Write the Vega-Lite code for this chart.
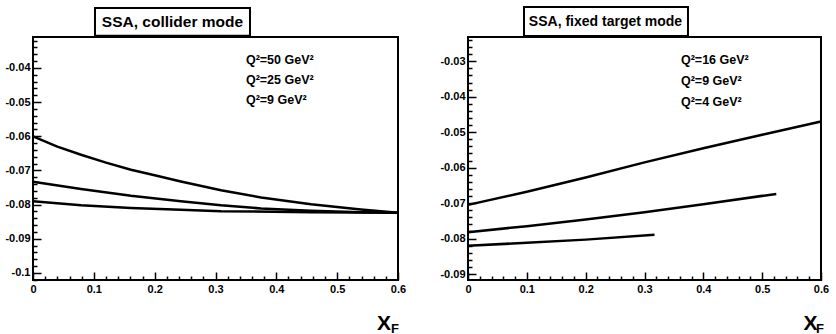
{
  "$schema": "https://vega.github.io/schema/vega-lite/v6.json",
  "padding": {"left": 3, "top": 5, "right": 0, "bottom": 0},
  "background": "white",
  "spacing": 31,
  "datasets": {
    "collider": [
      {"xf": 0.0, "asym": -0.0600, "series": "Q2=50"},
      {"xf": 0.04, "asym": -0.0630, "series": "Q2=50"},
      {"xf": 0.079, "asym": -0.0654, "series": "Q2=50"},
      {"xf": 0.12, "asym": -0.0677, "series": "Q2=50"},
      {"xf": 0.161, "asym": -0.0698, "series": "Q2=50"},
      {"xf": 0.2, "asym": -0.0714, "series": "Q2=50"},
      {"xf": 0.243, "asym": -0.0732, "series": "Q2=50"},
      {"xf": 0.309, "asym": -0.0758, "series": "Q2=50"},
      {"xf": 0.375, "asym": -0.0779, "series": "Q2=50"},
      {"xf": 0.457, "asym": -0.0799, "series": "Q2=50"},
      {"xf": 0.539, "asym": -0.0814, "series": "Q2=50"},
      {"xf": 0.6, "asym": -0.0824, "series": "Q2=50"},
      {"xf": 0.0, "asym": -0.0733, "series": "Q2=25"},
      {"xf": 0.079, "asym": -0.0754, "series": "Q2=25"},
      {"xf": 0.161, "asym": -0.0774, "series": "Q2=25"},
      {"xf": 0.243, "asym": -0.0790, "series": "Q2=25"},
      {"xf": 0.309, "asym": -0.0802, "series": "Q2=25"},
      {"xf": 0.375, "asym": -0.0811, "series": "Q2=25"},
      {"xf": 0.457, "asym": -0.0818, "series": "Q2=25"},
      {"xf": 0.539, "asym": -0.0822, "series": "Q2=25"},
      {"xf": 0.6, "asym": -0.0824, "series": "Q2=25"},
      {"xf": 0.0, "asym": -0.0790, "series": "Q2=9"},
      {"xf": 0.079, "asym": -0.0802, "series": "Q2=9"},
      {"xf": 0.161, "asym": -0.0810, "series": "Q2=9"},
      {"xf": 0.243, "asym": -0.0815, "series": "Q2=9"},
      {"xf": 0.309, "asym": -0.0819, "series": "Q2=9"},
      {"xf": 0.457, "asym": -0.0822, "series": "Q2=9"},
      {"xf": 0.6, "asym": -0.0824, "series": "Q2=9"}
    ],
    "fixed": [
      {"xf": 0.0, "asym": -0.0705, "series": "Q2=16"},
      {"xf": 0.1, "asym": -0.0668, "series": "Q2=16"},
      {"xf": 0.2, "asym": -0.0628, "series": "Q2=16"},
      {"xf": 0.3, "asym": -0.0585, "series": "Q2=16"},
      {"xf": 0.4, "asym": -0.0545, "series": "Q2=16"},
      {"xf": 0.5, "asym": -0.0507, "series": "Q2=16"},
      {"xf": 0.6, "asym": -0.0470, "series": "Q2=16"},
      {"xf": 0.0, "asym": -0.0782, "series": "Q2=9"},
      {"xf": 0.1, "asym": -0.0765, "series": "Q2=9"},
      {"xf": 0.2, "asym": -0.0746, "series": "Q2=9"},
      {"xf": 0.3, "asym": -0.0726, "series": "Q2=9"},
      {"xf": 0.4, "asym": -0.0703, "series": "Q2=9"},
      {"xf": 0.524, "asym": -0.0674, "series": "Q2=9"},
      {"xf": 0.0, "asym": -0.0820, "series": "Q2=4"},
      {"xf": 0.1, "asym": -0.0812, "series": "Q2=4"},
      {"xf": 0.2, "asym": -0.0803, "series": "Q2=4"},
      {"xf": 0.317, "asym": -0.0789, "series": "Q2=4"}
    ],
    "one": [{}]
  },
  "hconcat": [
    {
      "width": 365,
      "height": 243,
      "layer": [
        {
          "data": {"name": "collider"},
          "mark": {"type": "line", "color": "black", "strokeWidth": 2.5},
          "encoding": {
            "x": {
              "field": "xf", "type": "quantitative",
              "scale": {"domain": [0, 0.6], "nice": false, "zero": false},
              "axis": {
                "values": [0,0.02,0.04,0.06,0.08,0.1,0.12,0.14,0.16,0.18,0.2,0.22,0.24,0.26,0.28,0.3,0.32,0.34,0.36,0.38,0.4,0.42,0.44,0.46,0.48,0.5,0.52,0.54,0.56,0.58,0.6],
                "tickCount": 100,
                "labelOverlap": false,
                "labelExpr": "abs(datum.value*10 - round(datum.value*10)) < 0.01 ? format(datum.value, '~g') : ''",
                "tickSize": {"condition": {"test": "abs(datum.value*10 - round(datum.value*10)) < 0.01", "value": -8}, "value": -4}
              }
            },
            "y": {
              "field": "asym", "type": "quantitative",
              "scale": {"domain": [-0.10205, -0.03093], "nice": false, "zero": false},
              "axis": {
                "values": [-0.102,-0.1,-0.098,-0.096,-0.094,-0.092,-0.09,-0.088,-0.086,-0.084,-0.082,-0.08,-0.078,-0.076,-0.074,-0.072,-0.07,-0.068,-0.066,-0.064,-0.062,-0.06,-0.058,-0.056,-0.054,-0.052,-0.05,-0.048,-0.046,-0.044,-0.042,-0.04,-0.038,-0.036,-0.034,-0.032],
                "tickCount": 100,
                "labelOverlap": false,
                "labelExpr": "abs(datum.value*100 - round(datum.value*100)) < 0.01 ? '-' + format(abs(datum.value), '~g') : ''",
                "tickSize": {"condition": {"test": "abs(datum.value*100 - round(datum.value*100)) < 0.01", "value": -8}, "value": -4}
              }
            },
            "detail": {"field": "series"}
          }
        },
        {
          "data": {"name": "one"},
          "mark": {"type": "rect", "fill": "white", "stroke": "black", "strokeWidth": 2},
          "encoding": {
            "x": {"datum": 0.1019}, "x2": {"datum": 0.3567},
            "y": {"datum": -0.02245}, "y2": {"datum": -0.0306}
          }
        },
        {
          "data": {"name": "one"},
          "mark": {"type": "text", "font": "Liberation Sans", "fontWeight": "bold", "fontSize": 15.5, "align": "center", "baseline": "middle", "color": "black"},
          "encoding": {
            "x": {"datum": 0.2293}, "y": {"datum": -0.02655},
            "text": {"value": "SSA, collider mode"}
          }
        },
        {
          "data": {"name": "one"},
          "mark": {"type": "text", "font": "Liberation Sans", "fontWeight": "bold", "fontSize": 12.5, "align": "left", "baseline": "middle", "lineHeight": 20, "color": "black"},
          "encoding": {
            "x": {"datum": 0.350}, "y": {"datum": -0.03766},
            "text": {"value": ["Q²=50 GeV²", "Q²=25 GeV²", "Q²=9 GeV²"]}
          }
        },
        {
          "data": {"name": "one"},
          "mark": {"type": "text", "font": "Liberation Sans", "fontWeight": "bold", "fontSize": 21, "align": "center", "baseline": "alphabetic", "color": "black"},
          "encoding": {
            "x": {"datum": 0.577}, "y": {"datum": -0.1166},
            "text": {"value": "X"}
          }
        },
        {
          "data": {"name": "one"},
          "mark": {"type": "text", "font": "Liberation Sans", "fontWeight": "bold", "fontSize": 13, "align": "left", "baseline": "alphabetic", "color": "black"},
          "encoding": {
            "x": {"datum": 0.5885}, "y": {"datum": -0.11755},
            "text": {"value": "F"}
          }
        }
      ]
    },
    {
      "width": 353,
      "height": 243,
      "layer": [
        {
          "data": {"name": "fixed"},
          "mark": {"type": "line", "color": "black", "strokeWidth": 2.5},
          "encoding": {
            "x": {
              "field": "xf", "type": "quantitative",
              "scale": {"domain": [0, 0.6], "nice": false, "zero": false},
              "axis": {
                "values": [0,0.02,0.04,0.06,0.08,0.1,0.12,0.14,0.16,0.18,0.2,0.22,0.24,0.26,0.28,0.3,0.32,0.34,0.36,0.38,0.4,0.42,0.44,0.46,0.48,0.5,0.52,0.54,0.56,0.58,0.6],
                "tickCount": 100,
                "labelOverlap": false,
                "labelExpr": "abs(datum.value*10 - round(datum.value*10)) < 0.01 ? format(datum.value, '~g') : ''",
                "tickSize": {"condition": {"test": "abs(datum.value*10 - round(datum.value*10)) < 0.01", "value": -8}, "value": -4}
              }
            },
            "y": {
              "field": "asym", "type": "quantitative",
              "scale": {"domain": [-0.09169, -0.02314], "nice": false, "zero": false},
              "axis": {
                "values": [-0.09,-0.088,-0.086,-0.084,-0.082,-0.08,-0.078,-0.076,-0.074,-0.072,-0.07,-0.068,-0.066,-0.064,-0.062,-0.06,-0.058,-0.056,-0.054,-0.052,-0.05,-0.048,-0.046,-0.044,-0.042,-0.04,-0.038,-0.036,-0.034,-0.032,-0.03,-0.028,-0.026,-0.024],
                "tickCount": 100,
                "labelOverlap": false,
                "labelExpr": "abs(datum.value*100 - round(datum.value*100)) < 0.01 ? '-' + format(abs(datum.value), '~g') : ''",
                "tickSize": {"condition": {"test": "abs(datum.value*100 - round(datum.value*100)) < 0.01", "value": -8}, "value": -4}
              }
            },
            "detail": {"field": "series"}
          }
        },
        {
          "data": {"name": "one"},
          "mark": {"type": "rect", "fill": "white", "stroke": "black", "strokeWidth": 2},
          "encoding": {
            "x": {"datum": 0.0952}, "x2": {"datum": 0.3739},
            "y": {"datum": -0.01468}, "y2": {"datum": -0.02286}
          }
        },
        {
          "data": {"name": "one"},
          "mark": {"type": "text", "font": "Liberation Sans", "fontWeight": "bold", "fontSize": 14, "align": "center", "baseline": "middle", "color": "black"},
          "encoding": {
            "x": {"datum": 0.2337}, "y": {"datum": -0.01891},
            "text": {"value": "SSA, fixed target mode"}
          }
        },
        {
          "data": {"name": "one"},
          "mark": {"type": "text", "font": "Liberation Sans", "fontWeight": "bold", "fontSize": 12.5, "align": "left", "baseline": "middle", "lineHeight": 21, "color": "black"},
          "encoding": {
            "x": {"datum": 0.362}, "y": {"datum": -0.02963},
            "text": {"value": ["Q²=16 GeV²", "Q²=9 GeV²", "Q²=4 GeV²"]}
          }
        },
        {
          "data": {"name": "one"},
          "mark": {"type": "text", "font": "Liberation Sans", "fontWeight": "bold", "fontSize": 21, "align": "center", "baseline": "alphabetic", "color": "black"},
          "encoding": {
            "x": {"datum": 0.582}, "y": {"datum": -0.10579},
            "text": {"value": "X"}
          }
        },
        {
          "data": {"name": "one"},
          "mark": {"type": "text", "font": "Liberation Sans", "fontWeight": "bold", "fontSize": 13, "align": "left", "baseline": "alphabetic", "color": "black"},
          "encoding": {
            "x": {"datum": 0.5915}, "y": {"datum": -0.10661},
            "text": {"value": "F"}
          }
        }
      ]
    }
  ],
  "config": {
    "view": {"stroke": "black", "strokeWidth": 2},
    "axis": {
      "domain": false,
      "grid": false,
      "title": null,
      "labelFont": "Liberation Sans",
      "labelFontWeight": "bold",
      "labelFontSize": 11,
      "labelColor": "black",
      "labelFlush": false,
      "labelBound": false,
      "tickColor": "black",
      "tickWidth": 1.5,
      "labelPadding": 11
    },
    "axisY": {"minExtent": 29, "maxExtent": 29}
  }
}
